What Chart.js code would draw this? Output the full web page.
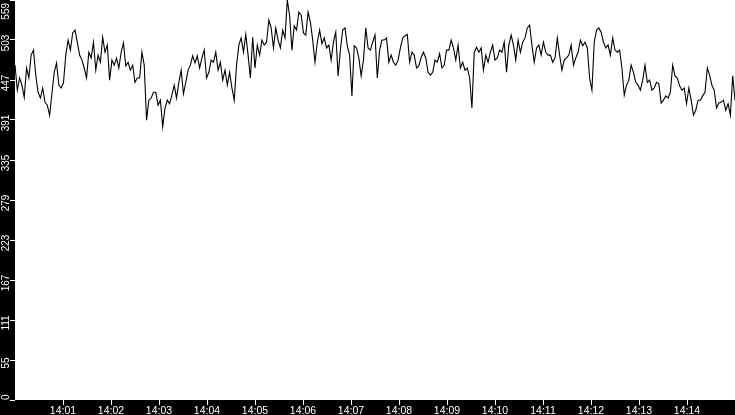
<!DOCTYPE html>
<html>
<head>
<meta charset="utf-8">
<script src="https://cdn.jsdelivr.net/npm/chart.js@4/dist/chart.umd.min.js"></script>
<style>
html,body{margin:0;padding:0;background:#000;overflow:hidden}
canvas{display:block}
</style>
</head>
<body>
<canvas id="c" width="735" height="415"></canvas>
<script>
// Series values, sampled evenly from 14:00:00 to 14:15:00
const seriesValues = [
  468,433,450,440,423,464,450,482,489,454,430,422,436,416,412,398,428,458,471,440,
  436,443,482,503,489,513,517,500,482,475,464,450,486,478,500,461,482,472,507,486,
  496,447,475,468,478,464,486,499,467,472,461,468,444,450,
  450,486,468,391,419,422,430,430,412,419,382,408,419,414,426,440,422,444,461,428,
  444,461,468,481,471,481,464,478,489,450,458,475,472,486,461,472,447,461,440,458,
  436,419,468,496,506,486,511,482,450,507,464,496,482,
  503,496,500,531,520,492,520,503,492,517,506,559,537,489,523,517,542,538,513,510,
  542,528,503,472,500,517,498,506,492,496,475,500,514,453,489,517,520,495,482,425,
  495,492,478,453,475,520,492,489,500,510,450,489,503,
  503,506,472,482,472,468,475,492,506,509,511,472,486,482,464,467,479,486,478,458,
  454,458,475,472,484,464,468,489,489,503,492,475,496,464,472,461,464,450,408,486,
  493,486,492,461,482,472,486,496,475,478,489,486,500,
  458,496,510,496,475,503,486,500,506,520,524,496,472,492,496,482,500,486,482,482,
  472,478,506,482,461,475,478,482,496,468,478,486,503,495,500,492,450,433,500,517,
  520,514,500,492,496,482,506,489,486,489,464,426,440,
  447,468,458,444,440,433,447,468,444,447,433,436,444,442,415,419,425,422,430,468,
  453,450,439,433,436,414,436,419,398,405,419,419,425,430,464,454,440,433,408,415,
  416,419,405,414,398,453,419
];
const startSeconds = 0;     // 14:00:00
const endSeconds = 900;     // 14:15:00

const xTickSeconds = [60,120,180,240,300,360,420,480,540,600,660,720,780,840];
const xTickLabels = ['14:01','14:02','14:03','14:04','14:05','14:06','14:07','14:08','14:09','14:10','14:11','14:12','14:13','14:14'];

const yTickValues = [0,55.9,111.8,167.7,223.6,279.5,335.4,391.3,447.2,503.1,559];
const yTickLabels = ['0','55','111','167','223','279','335','391','447','503','559'];

const FONT = '"Liberation Sans", Arial, sans-serif';

const stepSec = (endSeconds - startSeconds) / (seriesValues.length - 1);
const points = seriesValues.map((v, i) => ({ x: startSeconds + i * stepSec, y: v }));

const framePlugin = {
  id: 'frame',
  beforeDraw(chart) {
    const { ctx, chartArea: a } = chart;
    ctx.save();
    ctx.fillStyle = '#000';
    ctx.fillRect(0, 0, chart.width, chart.height);
    ctx.fillStyle = '#fff';
    ctx.fillRect(a.left, a.top, a.right - a.left, a.bottom - a.top);
    ctx.restore();
  },
  afterDraw(chart) {
    const { ctx, chartArea: a } = chart;
    const ys = chart.scales.y;
    ctx.save();
    ctx.font = '10px ' + FONT;
    ctx.fillStyle = '#fff';
    ctx.textAlign = 'center';
    ctx.textBaseline = 'alphabetic';
    yTickValues.forEach((v, i) => {
      const label = yTickLabels[i];
      const w = ctx.measureText(label).width;
      let cy = ys.getPixelForValue(v) + 3;
      cy = Math.max(a.top + 3 + w / 2, Math.min(a.bottom - w / 2, cy));
      ctx.save();
      ctx.translate(9, cy);
      ctx.rotate(-Math.PI / 2);
      ctx.fillText(label, 0, 0);
      ctx.restore();
    });
    ctx.restore();
  }
};

new Chart(document.getElementById('c'), {
  type: 'line',
  data: {
    datasets: [{
      data: points,
      borderColor: '#000',
      borderWidth: 1.1,
      pointRadius: 0,
      tension: 0,
      fill: false
    }]
  },
  options: {
    responsive: false,
    devicePixelRatio: 1,
    animation: false,
    layout: { padding: 0 },
    plugins: { legend: { display: false }, tooltip: { enabled: false } },
    scales: {
      x: {
        type: 'linear',
        min: startSeconds,
        max: endSeconds,
        afterBuildTicks(s) { s.ticks = xTickSeconds.map(v => ({ value: v })); },
        ticks: {
          color: '#fff',
          font: { family: FONT, size: 10.5 },
          padding: 0,
          maxRotation: 0,
          minRotation: 0,
          autoSkip: false,
          callback: (v, i) => xTickLabels[i]
        },
        grid: { drawOnChartArea: false, drawTicks: true, tickLength: 5, color: '#fff', lineWidth: 1 },
        border: { display: false },
        afterFit(s) { s.height = 15; s.paddingLeft = 0; s.paddingRight = 0; }
      },
      y: {
        type: 'linear',
        min: 0,
        max: 559,
        afterBuildTicks(s) { s.ticks = yTickValues.map(v => ({ value: v })); },
        ticks: { display: false },
        grid: { drawOnChartArea: false, drawTicks: true, tickLength: 5, color: '#fff', lineWidth: 1 },
        border: { display: false },
        afterFit(s) { s.width = 15; s.paddingTop = 0; s.paddingBottom = 0; }
      }
    }
  },
  plugins: [framePlugin]
});
</script>
</body>
</html>
